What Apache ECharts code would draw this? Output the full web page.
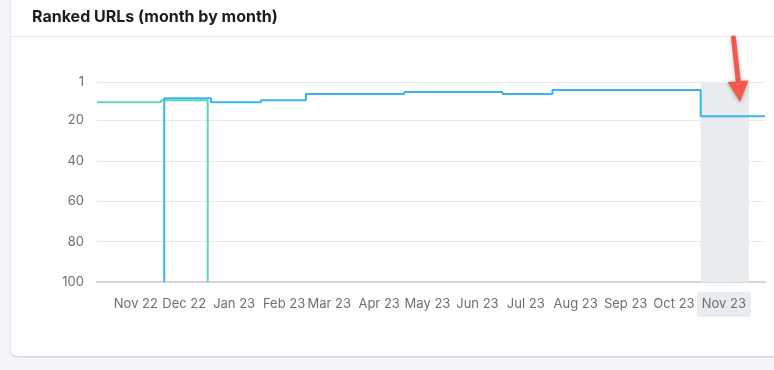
<!DOCTYPE html>
<html>
<head>
<meta charset="utf-8">
<script src="https://cdn.jsdelivr.net/npm/echarts@6/dist/echarts.min.js"></script>
<style>
  html, body { margin: 0; padding: 0; width: 774px; height: 370px; overflow: hidden; background: #f3f4f8; }
  #card { position: absolute; left: 11px; top: -10px; width: 780px; height: 366px; background: #fff;
          border-radius: 6px; box-shadow: 0 1px 2px rgba(0,0,0,0.18); }
  #divider { position: absolute; left: 11px; top: 36px; width: 763px; height: 1px; background: #e4e5ea; }
  #chart { position: absolute; left: 0; top: 0; width: 774px; height: 370px; }
</style>
</head>
<body>
<div id="card"></div>
<div id="divider"></div>
<div id="chart"></div>
<script>
// ---- data ----
const titleText = 'Ranked URLs (month by month)';
const monthLabels = ['Nov 22','Dec 22','Jan 23','Feb 23','Mar 23','Apr 23','May 23','Jun 23','Jul 23','Aug 23','Sep 23','Oct 23','Nov 23'];
const labelDates = ['2022-11-15','2022-12-15','2023-01-15','2023-02-15','2023-03-15','2023-04-15','2023-05-15','2023-06-15','2023-07-15','2023-08-15','2023-09-15','2023-10-15','2023-11-15'];
const yTicks = [1, 20, 40, 60, 80, 100];
const rangeStart = '2022-10-22T07:00:00Z';
const rangeEnd = '2023-12-10T22:00:00Z';
const highlightStart = '2023-11-01';
const highlightEnd = '2023-12-01';
// green series (earlier URL)
const greenDates = ['2022-10-22T07:00:00Z', '2022-12-01', '2022-12-30', '2022-12-30'];
const greenValues = [11, 10, 10, 100];
// blue series (current URL)
const blueDates = ['2022-12-03', '2022-12-03', '2023-01-01', '2023-02-01', '2023-03-01', '2023-05-01', '2023-07-01', '2023-08-01', '2023-11-01', '2023-12-10T22:00:00Z'];
const blueValues = [100, 9, 11, 10, 7, 6, 7, 5, 18, 18];

const t = s => Date.parse(s.length === 10 ? s + 'T00:00:00Z' : s);
const labelTimes = labelDates.map(s => t(s) + 10 * 3600 * 1000);
const labelMap = {};
labelTimes.forEach((v, i) => { labelMap[v] = monthLabels[i]; });

const chart = echarts.init(document.getElementById('chart'), null, { renderer: 'canvas' });
const fontFamily = 'Inter, "Noto Sans", sans-serif';

chart.setOption({
  backgroundColor: 'transparent',
  animation: false,
  title: {
    text: titleText,
    left: 32, top: 9, padding: 0,
    textStyle: { fontFamily, fontSize: 16, fontWeight: 700, color: '#1b1c1e' }
  },
  grid: { left: 97, right: 9, top: 82, height: 200 },
  xAxis: {
    type: 'value',
    min: t(rangeStart),
    max: t(rangeEnd),
    axisLine: { show: true, lineStyle: { color: '#d4d7da', width: 2 } },
    axisTick: { show: false },
    splitLine: { show: false },
    axisLabel: {
      customValues: labelTimes,
      margin: 10,
      formatter: v => {
        const name = labelMap[v] || '';
        return name === monthLabels[monthLabels.length - 1] ? '{hl|' + name + '}' : '{n|' + name + '}';
      },
      rich: {
        n: { fontFamily, fontSize: 13, color: '#6d6f72', padding: [6, 5, 6, 5] },
        hl: { fontFamily, fontSize: 13, color: '#6d6f72', padding: [6, 5, 6, 5], backgroundColor: '#e9ecee', borderRadius: 2 }
      }
    }
  },
  yAxis: {
    type: 'value',
    inverse: true,
    min: 1,
    max: 100,
    axisLine: { show: false },
    axisTick: { show: false, customValues: yTicks },
    splitLine: { show: true, lineStyle: { color: '#e8e9ea', width: 1 } },
    axisLabel: { customValues: yTicks, margin: 13, fontFamily, fontSize: 13, color: '#6d6f72' }
  },
  series: [
    {
      name: 'highlight',
      type: 'line',
      data: [],
      silent: true,
      markArea: {
        silent: true,
        itemStyle: { color: '#e9ecee' },
        data: [[{ xAxis: t(highlightStart) }, { xAxis: t(highlightEnd) }]]
      },
      z: 1
    },
    {
      name: 'green',
      type: 'line',
      step: 'end',
      symbol: 'none',
      data: greenDates.map((d, i) => [t(d), greenValues[i]]),
      lineStyle: { color: '#5fd9a8', width: 2 },
      z: 2
    },
    {
      name: 'blue',
      type: 'line',
      step: 'end',
      symbol: 'none',
      data: blueDates.map((d, i) => [t(d), blueValues[i]]),
      lineStyle: { color: '#37b3f6', width: 2 },
      z: 3
    }
  ],
  graphic: [
    {
      type: 'line',
      zlevel: 1,
      z: 100,
      shape: { x1: 733.5, y1: 38, x2: 738.6, y2: 84 },
      style: { stroke: '#f2594b', lineWidth: 5, lineCap: 'round', shadowBlur: 4, shadowColor: 'rgba(0,0,0,0.25)', shadowOffsetY: 1 }
    },
    {
      type: 'polygon',
      zlevel: 1,
      z: 101,
      shape: { points: [[727.5, 82], [748.5, 80.5], [740, 102]] },
      style: { fill: '#f2594b', shadowBlur: 4, shadowColor: 'rgba(0,0,0,0.3)', shadowOffsetY: 1 }
    }
  ]
});
</script>
</body>
</html>
